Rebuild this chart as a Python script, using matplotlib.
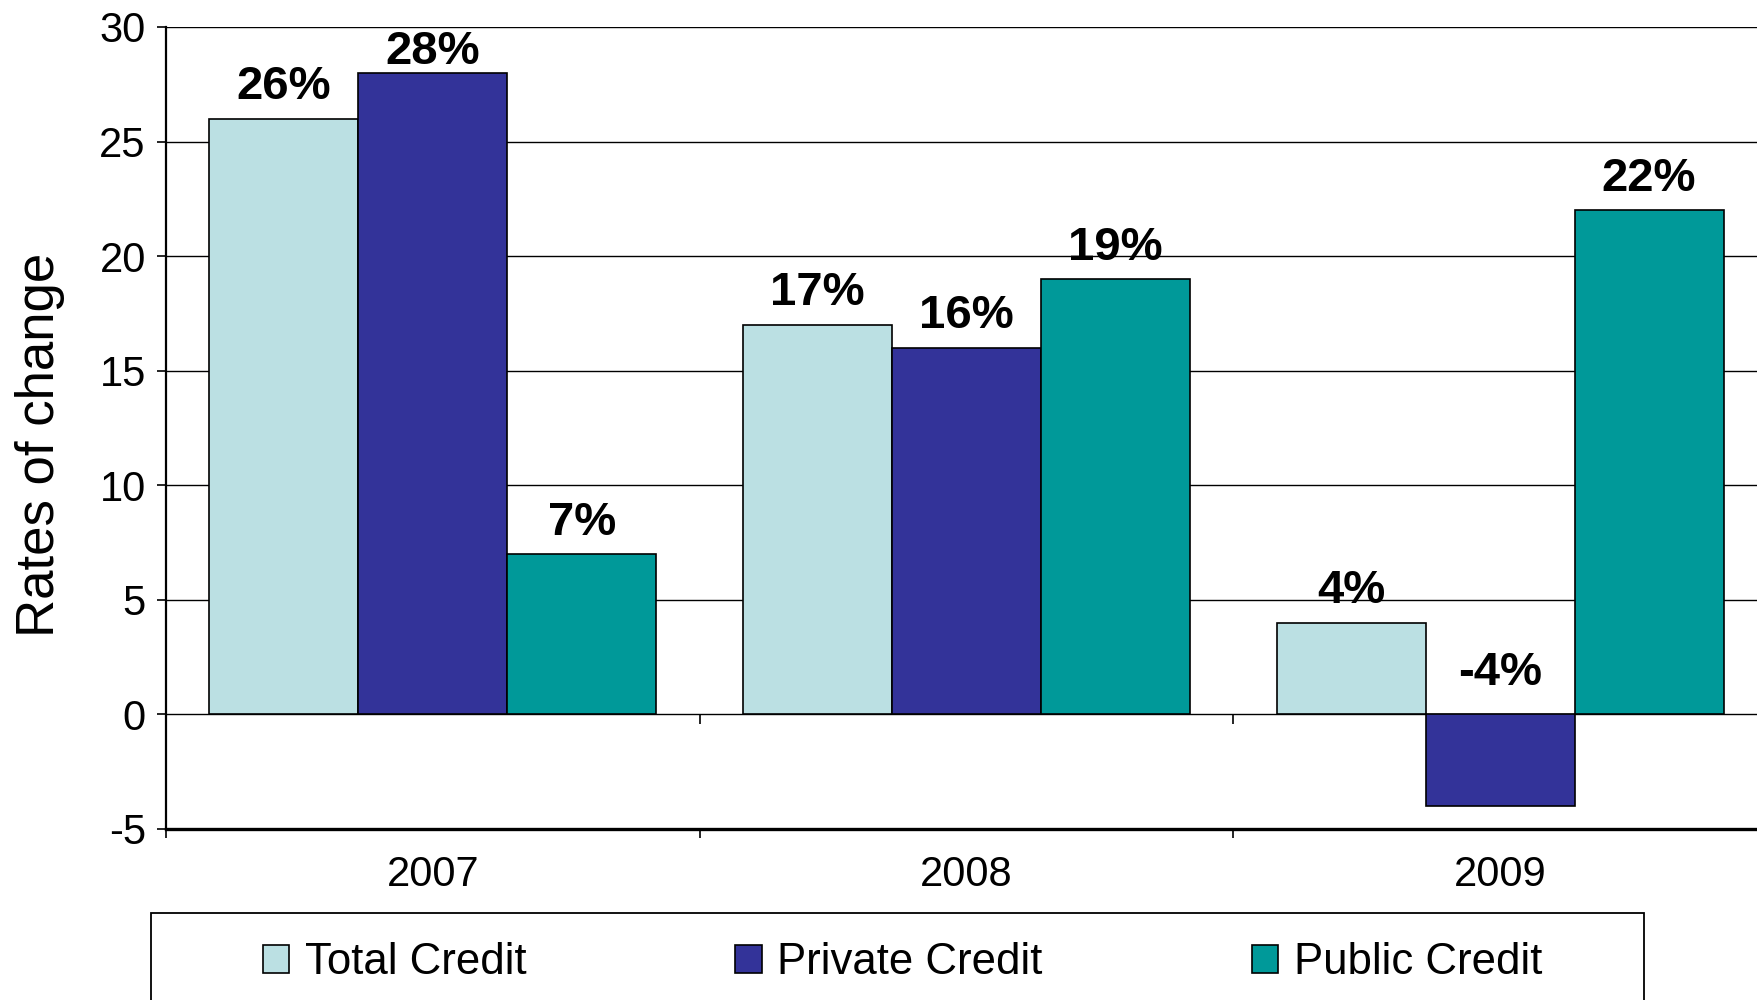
import numpy as np
import matplotlib
matplotlib.use("Agg")
import matplotlib.pyplot as plt
from matplotlib.patches import Rectangle

plt.rcParams['font.family'] = ['Liberation Sans', 'DejaVu Sans']
plt.rcParams['axes.unicode_minus'] = False

# 信贷变化率数据
years = ["2007", "2008", "2009"]
series_names = ["Total Credit", "Private Credit", "Public Credit"]
total_credit = [26, 17, 4]
private_credit = [28, 16, -4]
public_credit = [7, 19, 22]
series_colors = ["#BBE0E3", "#333399", "#009999"]

W, H = 1757, 1000
fig = plt.figure(figsize=(W / 100, H / 100), dpi=100)
ax = fig.add_axes([166 / W, 1 - 829 / H, (1767 - 166) / W, (829 - 27) / H])

x = np.arange(len(years))
bar_w = 0.279
all_series = [total_credit, private_credit, public_credit]
for i, (vals, name, col) in enumerate(zip(all_series, series_names, series_colors)):
    pos = x + (i - 1) * bar_w
    ax.bar(pos, vals, width=bar_w, color=col, edgecolor="black",
           linewidth=1.2, label=name, zorder=3)
    for px, v in zip(pos, vals):
        # 标签放在柱子上方，负值放在零线上方，超出顶部时往下挪
        y = v + 0.85 if v >= 0 else 1.3
        y = min(y, 28.4)
        ax.text(px, y, f"{v}%", ha="center", va="baseline",
                fontsize=34, fontweight="bold", zorder=4)

ax.set_xlim(-0.5, len(years) - 0.5)
ax.set_ylim(-5, 30)
ax.set_yticks(np.arange(-5, 31, 5))
ax.yaxis.grid(True, color="black", linewidth=1.0, zorder=1)
ax.set_axisbelow(True)

# 类别分界处刻度，标签放在中间
boundaries = np.arange(len(years) + 1) - 0.5
ax.set_xticks(boundaries)
ax.set_xticklabels([])
ax.set_xticks(x, minor=True)
ax.set_xticklabels(years, minor=True)
ax.tick_params(axis="x", which="major", length=6.5, width=1.2, direction="out")
ax.tick_params(axis="x", which="minor", length=0, pad=19, labelsize=30)
ax.tick_params(axis="y", length=6.5, width=1.2, pad=8, labelsize=30)
ax.vlines(boundaries[1:-1], -0.4, 0, color="black", linewidth=1.2, zorder=2)

for side in ["top", "right"]:
    ax.spines[side].set_visible(False)
ax.spines["left"].set_linewidth(1.6)
ax.spines["bottom"].set_linewidth(2.4)

ax.set_ylabel("Rates of change", fontsize=38)
ax.yaxis.set_label_coords(-0.063, 0.479)

# 图例外框
fig.patches.append(Rectangle((151 / W, -0.05), (1644 - 151) / W, 0.05 + 1 - 913 / H,
                             transform=fig.transFigure, fill=False,
                             edgecolor="black", linewidth=1.3))
fig.legend(loc="center", ncol=3, mode="expand", frameon=False,
           bbox_to_anchor=(263 / W, 0.037 - 0.02, (1542 - 263) / W, 0.04),
           borderpad=0, borderaxespad=0, fontsize=31.5,
           handlelength=0.6, handleheight=0.6, handletextpad=0.36)

fig.savefig("out.png", dpi=100)
